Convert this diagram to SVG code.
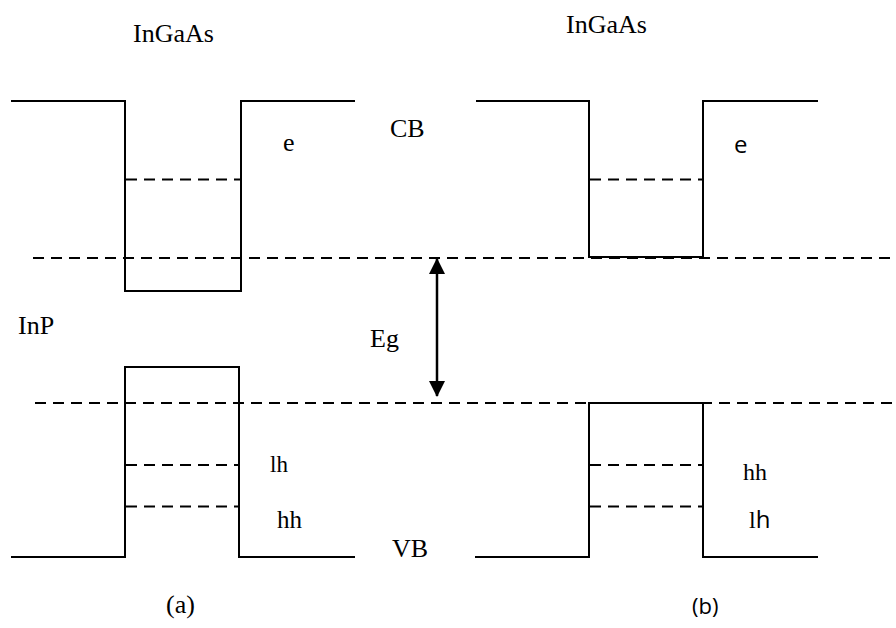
<svg xmlns="http://www.w3.org/2000/svg" width="896" height="628" viewBox="0 0 896 628">
<defs>
<style>
.band{fill:none;stroke:#000;stroke-width:2}
.dash{fill:none;stroke:#000;stroke-width:2;stroke-dasharray:11 7}
.serif{font-family:"Liberation Serif","Times New Roman",serif;font-size:26px;fill:#000}
.sans{font-family:"Open Sans","Noto Sans",sans-serif;font-size:22px;fill:#000}
</style>
<marker id="ah" viewBox="0 0 16 16" refX="15" refY="8" markerWidth="16" markerHeight="16" markerUnits="userSpaceOnUse" orient="auto-start-reverse">
<path d="M0,0 L16,8 L0,16 Z" fill="#000"/>
</marker>
</defs>
<rect width="896" height="628" fill="#fff"/>

<g id="levels">
<line class="dash" x1="33" y1="258" x2="896" y2="258"/>
<line class="dash" x1="35" y1="403" x2="896" y2="403"/>
</g>

<g id="panel-a">
<polyline class="band" points="11,101 125,101 125,291 241,291 241,101 355,101"/>
<line class="dash" x1="126" y1="179.5" x2="240" y2="179.5"/>
<polyline class="band" points="11,557 125,557 125,367 239,367 239,557 355,557"/>
<line class="dash" x1="126" y1="465" x2="238" y2="465"/>
<line class="dash" x1="126" y1="506.5" x2="238" y2="506.5"/>
</g>

<g id="panel-b">
<polyline class="band" points="476,101 589,101 589,257 703,257 703,101 818,101"/>
<line class="dash" x1="590" y1="179.5" x2="702" y2="179.5"/>
<polyline class="band" points="475,557 589,557 589,403 703,403 703,557 818,557"/>
<line class="dash" x1="590" y1="465" x2="702" y2="465"/>
<line class="dash" x1="590" y1="506.5" x2="702" y2="506.5"/>
</g>

<g id="connectors">
<line x1="437" y1="259" x2="437" y2="396" stroke="#000" stroke-width="2.5" marker-start="url(#ah)" marker-end="url(#ah)"/>
</g>

<g id="labels">
<text class="serif" x="133" y="42">InGaAs</text>
<text class="serif" x="566" y="33">InGaAs</text>
<text class="serif" x="390" y="137">CB</text>
<text class="serif" x="283" y="151">e</text>
<text class="sans" x="734" y="153" style="font-size:24px">e</text>
<text class="serif" x="18" y="334">InP</text>
<text class="serif" x="370" y="347">Eg</text>
<text class="serif" x="270" y="472" style="font-size:23px">lh</text>
<text class="serif" x="277" y="528" style="font-size:25px">hh</text>
<text class="serif" x="743" y="480" style="font-size:24px">hh</text>
<text class="serif" x="749" y="528" style="font-size:24px">l<tspan style="font-family:'Open Sans','Noto Sans',sans-serif">h</tspan></text>
<text class="serif" x="392" y="557">VB</text>
<text class="serif" x="166" y="613">(a)</text>
<text class="sans" x="692" y="614">(b)</text>
</g>
</svg>
